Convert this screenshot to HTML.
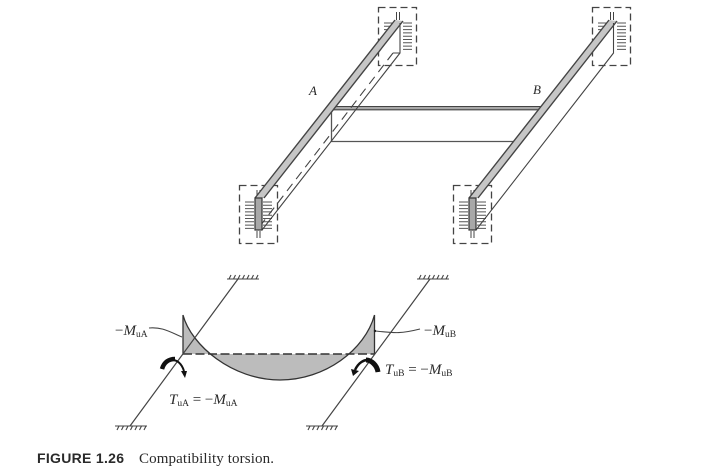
<!DOCTYPE html>
<html>
<head>
<meta charset="utf-8">
<style>
html,body{margin:0;padding:0;background:#fff;width:720px;height:476px;overflow:hidden}
svg{display:block;filter:blur(0.35px)}
text{font-family:"Liberation Serif",serif;fill:#2a2a2a}
.i{font-style:italic}
.s{font-size:9.5px}
</style>
</head>
<body>
<svg width="720" height="476" viewBox="0 0 720 476" xmlns="http://www.w3.org/2000/svg">
<defs>
<g id="hatch">
<path d="M0 0h9M0 3.3h9M0 6.6h9M0 9.9h9M0 13.2h9M0 16.5h9M0 19.8h9M0 23.1h9M0 26.4h9" stroke="#555" stroke-width="1" fill="none"/>
</g>
<g id="slash">
<path d="M0 0h32M2 0l2-4M6.5 0l2-4M11 0l2-4M15.5 0l2-4M20 0l2-4M24.5 0l2-4M29 0l2-4" stroke="#444" stroke-width="1.100" fill="none"/>
</g>
<g id="slashd">
<path d="M0 0h32M2 4l2-4M6.5 4l2-4M11 4l2-4M15.5 4l2-4M20 4l2-4M24.5 4l2-4M29 4l2-4" stroke="#444" stroke-width="1.100" fill="none"/>
</g>
</defs>

<!-- dashed column boxes -->
<g fill="none" stroke="#444" stroke-width="1.300" stroke-dasharray="7 4">
<rect x="378.5" y="7.5" width="38" height="58"/>
<rect x="592.5" y="7.5" width="38" height="58"/>
<rect x="239.5" y="185.5" width="38" height="58"/>
<rect x="453.5" y="185.5" width="38" height="58"/>
</g>

<!-- hatches -->
<use href="#hatch" x="403" y="23"/>
<use href="#hatch" x="617" y="23"/>
<use href="#hatch" x="245" y="202"/>
<use href="#hatch" x="263" y="202"/>
<use href="#hatch" x="459" y="202"/>
<use href="#hatch" x="477" y="202"/>
<path d="M384 23h9M384 26.3h8M384 29.6h6M598 23h9M598 26.3h8M598 29.6h6" stroke="#555" stroke-width="1"/>

<!-- column ticks -->
<path d="M396.500 12v8M399.500 12v8M610.500 12v8M613.500 12v8M257 190v8M260 190v8M257 231v7M260 231v7M471 190v8M474 190v8M471 231v7M474 231v7" stroke="#444" stroke-width="1"/>

<!-- transverse beam -->
<path d="M332 108H541" stroke="#a8a8a8" stroke-width="3.500"/>
<path d="M332 106.500H541M332 109.800H539" stroke="#444" stroke-width="1.100"/>
<path d="M331.500 109V141.500H513" stroke="#555" stroke-width="1.300" fill="none"/>

<!-- beam A -->
<polygon points="395,20 403,21 264,198 255,198" fill="#c6c6c6"/>
<path d="M395 20L255 198M403 21L264 198" stroke="#444" stroke-width="1.400" fill="none"/>
<path d="M400 23V53L262 230" stroke="#444" stroke-width="1.100" fill="none"/>
<path d="M393 53L257 230" stroke="#444" stroke-width="1.100" stroke-dasharray="9 6" fill="none"/>
<path d="M393 53H400" stroke="#444" stroke-width="1"/>
<rect x="255" y="198" width="7" height="32" fill="#a8a8a8" stroke="#333" stroke-width="1.200"/>

<!-- beam B -->
<polygon points="609,20 617,21 478,198 469,198" fill="#c6c6c6"/>
<path d="M609 20L469 198M617 21L478 198" stroke="#444" stroke-width="1.400" fill="none"/>
<path d="M613.500 23V53L476 230" stroke="#444" stroke-width="1.100" fill="none"/>
<rect x="469" y="198" width="7" height="32" fill="#a8a8a8" stroke="#333" stroke-width="1.200"/>

<text x="309" y="95" class="i" font-size="13">A</text>
<text x="533" y="94" class="i" font-size="13">B</text>

<!-- moment diagram -->
<path d="M183 315C191 345 232 380 280 380C325 380 365 350 374.500 315L374.500 354H183Z" fill="#bcbcbc"/>
<path d="M183 354V315C191 345 232 380 280 380C325 380 365 350 374.500 315V354" fill="none" stroke="#333" stroke-width="1.300"/>
<path d="M183 354H375" stroke="#333" stroke-width="1.400" stroke-dasharray="9 3.500"/>

<!-- columns lines -->
<path d="M238 279L130 426M430 279L322 426" stroke="#444" stroke-width="1.200" fill="none"/>
<use href="#slash" x="227" y="279"/>
<use href="#slash" x="417" y="279"/>
<use href="#slashd" x="115" y="426"/>
<use href="#slashd" x="306" y="426"/>

<!-- torque arrows -->
<path d="M162 369C164 358 179 355 184 371" fill="none" stroke="#111" stroke-width="2"/>
<path d="M162 369C164 362 169 359 175 359" fill="none" stroke="#111" stroke-width="4.500"/>
<polygon points="181,371 187,371 185,378" fill="#111"/>
<path d="M378 372C377 358 362 355 355 370" fill="none" stroke="#111" stroke-width="2.500"/>
<path d="M378 372C377 365 371 360 366 360" fill="none" stroke="#111" stroke-width="5"/>
<polygon points="351,369 359,371 353,376" fill="#111"/>

<!-- leaders -->
<path d="M149 328C162 327 168 331 182 337" fill="none" stroke="#444" stroke-width="1.100"/>
<path d="M375 331C395 333 400 334 420 329" fill="none" stroke="#444" stroke-width="1.100"/>
<circle cx="375" cy="331" r="1.200" fill="#222"/>

<!-- labels -->
<text x="115" y="335" font-size="15">−<tspan class="i">M</tspan><tspan class="s" dy="2">uA</tspan></text>
<text x="424" y="335" font-size="15">−<tspan class="i">M</tspan><tspan class="s" dy="2">uB</tspan></text>
<text x="385" y="374" font-size="15"><tspan class="i">T</tspan><tspan class="s" dy="2">uB</tspan><tspan dy="-2"> = −</tspan><tspan class="i">M</tspan><tspan class="s" dy="2">uB</tspan></text>
<text x="169" y="404" font-size="15"><tspan class="i">T</tspan><tspan class="s" dy="2">uA</tspan><tspan dy="-2"> = −</tspan><tspan class="i">M</tspan><tspan class="s" dy="2">uA</tspan></text>

<!-- caption -->
<text x="37" y="463" style="font-family:'Liberation Sans',sans-serif;font-weight:bold;font-size:14px" textLength="87">FIGURE 1.26</text>
<text x="139" y="463" font-size="15" textLength="135">Compatibility torsion.</text>
</svg>
</body>
</html>
